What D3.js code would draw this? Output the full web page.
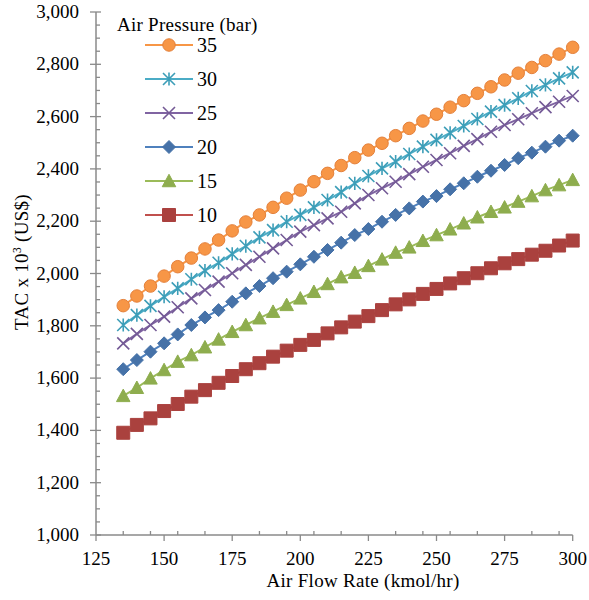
<!DOCTYPE html>
<html><head><meta charset="utf-8">
<script src="https://cdn.jsdelivr.net/npm/d3@7"></script>
<style>
html,body{margin:0;padding:0;background:#fff;}
svg text{font-family:"Liberation Serif","Times New Roman",serif;fill:#000;}
</style>
</head><body>
<svg id="chart" width="589" height="600"></svg>
<script>
const airFlow = [135,140,145,150,155,160,165,170,175,180,185,190,195,200,205,210,215,220,225,230,235,240,245,250,255,260,265,270,275,280,285,290,295,300];
const p35 = [1877,1914,1952,1990,2026,2059,2094,2128,2163,2197,2224,2253,2288,2319,2351,2383,2413,2443,2472,2498,2527,2555,2583,2609,2636,2661,2689,2714,2740,2766,2788,2814,2839,2865];
const p30 = [1803,1841,1876,1911,1943,1978,2011,2041,2075,2105,2138,2166,2198,2224,2253,2281,2311,2345,2373,2402,2428,2457,2485,2511,2538,2564,2591,2619,2644,2670,2698,2721,2746,2769];
const p25 = [1733,1769,1803,1835,1871,1905,1937,1969,2001,2033,2064,2096,2128,2160,2185,2211,2236,2268,2300,2326,2351,2380,2408,2434,2460,2488,2514,2542,2568,2590,2613,2636,2657,2679];
const p20 = [1634,1669,1701,1733,1767,1803,1832,1860,1892,1924,1952,1982,2007,2035,2064,2090,2118,2147,2170,2198,2224,2249,2275,2296,2322,2345,2370,2393,2415,2441,2462,2485,2508,2527];
const p15 = [1532,1563,1599,1631,1663,1688,1718,1748,1777,1803,1829,1854,1880,1905,1930,1960,1986,2003,2029,2054,2080,2100,2125,2147,2169,2192,2215,2236,2253,2275,2296,2319,2338,2358];
const p10 = [1391,1421,1446,1474,1501,1529,1554,1582,1608,1634,1657,1682,1705,1727,1746,1771,1794,1816,1837,1860,1882,1901,1922,1941,1962,1982,2001,2020,2039,2055,2072,2087,2107,2126];
const seriesNames = ["35","30","25","20","15","10"];
const xTicks = [125,150,175,200,225,250,275,300];
const yTicks = [1000,1200,1400,1600,1800,2000,2200,2400,2600,2800,3000];
const legendTitle = "Air Pressure (bar)";
const xTitle = "Air Flow Rate (kmol/hr)";

const styles = {
  "35": {color:"#F79646", fill:"#F79646", stroke:"#E4803A", shape:"circle"},
  "30": {color:"#4BACC6", fill:"none", stroke:"#3D9EB8", shape:"asterisk"},
  "25": {color:"#8064A2", fill:"none", stroke:"#745A96", shape:"x"},
  "20": {color:"#4F81BD", fill:"#4672A8", stroke:"#4672A8", shape:"diamond"},
  "15": {color:"#9BBB59", fill:"#8EAD4E", stroke:"#8EAD4E", shape:"triangle"},
  "10": {color:"#C0504D", fill:"#AA413E", stroke:"#AA413E", shape:"square"}
};
const seriesData = {"35":p35,"30":p30,"25":p25,"20":p20,"15":p15,"10":p10};

const svg = d3.select("#chart");
const x = d3.scaleLinear().domain([125,300]).range([96,572.7]);
const y = d3.scaleLinear().domain([1000,3000]).range([535,12]);
const axisColor = "#8A8A8A";

function markerPath(shape, s){
  const h = s/2;
  switch(shape){
    case "circle": return d3.symbol(d3.symbolCircle, Math.PI*h*h)();
    case "square": return `M${-h},${-h}H${h}V${h}H${-h}Z`;
    case "diamond": return `M0,${-h}L${h},0L0,${h}L${-h},0Z`;
    case "triangle": return `M0,${-h}L${h},${h*0.85}L${-h},${h*0.85}Z`;
    case "x": return `M${-h},${-h}L${h},${h}M${-h},${h}L${h},${-h}`;
    case "asterisk": return `M${-h},${-h}L${h},${h}M${-h},${h}L${h},${-h}M0,${-h*1.1}V${h*1.1}`;
  }
}
const markerSize = {circle:12.5, square:13, diamond:13, triangle:13.5, x:12, asterisk:12};

// Axes
const gx = svg.append("g");
gx.append("line").attr("x1",x(125)).attr("x2",x(300)).attr("y1",y(1000)).attr("y2",y(1000))
  .attr("stroke",axisColor).attr("stroke-width",1.5);
const xMinor = [];
for (let v=135; v<300; v+=10) if (!xTicks.includes(v)) xMinor.push(v);
gx.selectAll(".xminor").data(xMinor).join("line")
  .attr("x1",d=>x(d)).attr("x2",d=>x(d)).attr("y1",y(1000)).attr("y2",y(1000)-4)
  .attr("stroke",axisColor).attr("stroke-width",1.3);
gx.selectAll(".xmajor").data(xTicks).join("line")
  .attr("x1",d=>x(d)).attr("x2",d=>x(d)).attr("y1",y(1000)).attr("y2",y(1000)+6)
  .attr("stroke",axisColor).attr("stroke-width",1.3);
gx.selectAll(".xlab").data(xTicks).join("text")
  .attr("x",d=>x(d)).attr("y",565).attr("text-anchor","middle")
  .attr("font-size",19).text(d=>d);

const gy = svg.append("g");
gy.append("line").attr("x1",x(125)).attr("x2",x(125)).attr("y1",y(1000)).attr("y2",y(3000))
  .attr("stroke",axisColor).attr("stroke-width",1.5);
const yMinor = [];
for (let v=1050; v<3000; v+=50) if (!yTicks.includes(v)) yMinor.push(v);
gy.selectAll(".yminor").data(yMinor).join("line")
  .attr("x1",x(125)).attr("x2",x(125)+4).attr("y1",d=>y(d)).attr("y2",d=>y(d))
  .attr("stroke",axisColor).attr("stroke-width",1.3);
gy.selectAll(".ymajor").data(yTicks).join("line")
  .attr("x1",x(125)-6).attr("x2",x(125)+5).attr("y1",d=>y(d)).attr("y2",d=>y(d))
  .attr("stroke",axisColor).attr("stroke-width",1.3);
const fmt = d3.format(",");
gy.selectAll(".ylab").data(yTicks).join("text")
  .attr("x",79).attr("y",d=>y(d)+6).attr("text-anchor","end")
  .attr("font-size",19).text(d=>fmt(d));

// Axis titles
svg.append("text").attr("x",363).attr("y",587).attr("text-anchor","middle")
  .attr("font-size",19).attr("letter-spacing",0.3).text(xTitle);
const yt = svg.append("text").attr("transform","translate(28,262) rotate(-90)")
  .attr("text-anchor","middle").attr("font-size",19).attr("letter-spacing",0.3);
yt.append("tspan").text("TAC x 10");
yt.append("tspan").attr("font-size",11.5).attr("dy",-7).text("3");
yt.append("tspan").attr("dy",7).text(" (US$)");

// Series (draw bottom first)
const line = d3.line().x((d,i)=>x(airFlow[i])).y(d=>y(d));
[...seriesNames].reverse().forEach(name=>{
  const st = styles[name];
  const data = seriesData[name];
  const g = svg.append("g");
  g.append("path").attr("d",line(data)).attr("fill","none")
    .attr("stroke",st.color).attr("stroke-width",2);
  const isStroke = (st.shape==="x"||st.shape==="asterisk");
  g.selectAll("path.m").data(data).join("path").attr("class","m")
    .attr("transform",(d,i)=>`translate(${x(airFlow[i])},${y(d)})`)
    .attr("d",markerPath(st.shape, markerSize[st.shape]))
    .attr("fill", isStroke ? "none" : st.fill)
    .attr("stroke", st.stroke)
    .attr("stroke-width", isStroke ? 1.6 : 1);
});

// Legend
const lg = svg.append("g");
lg.append("text").attr("x",117).attr("y",31).attr("font-size",19).attr("letter-spacing",0.25).text(legendTitle);
seriesNames.forEach((name,i)=>{
  const st = styles[name];
  const cy = 45 + i*34;
  lg.append("line").attr("x1",145).attr("x2",193).attr("y1",cy).attr("y2",cy)
    .attr("stroke",st.color).attr("stroke-width",2);
  const isStroke = (st.shape==="x"||st.shape==="asterisk");
  lg.append("path").attr("transform",`translate(169,${cy})`)
    .attr("d",markerPath(st.shape, markerSize[st.shape]))
    .attr("fill", isStroke ? "none" : st.fill)
    .attr("stroke", st.stroke).attr("stroke-width", isStroke ? 1.6 : 1);
  lg.append("text").attr("x",197).attr("y",cy+7).attr("font-size",20).text(name);
});
</script>
</body></html>
